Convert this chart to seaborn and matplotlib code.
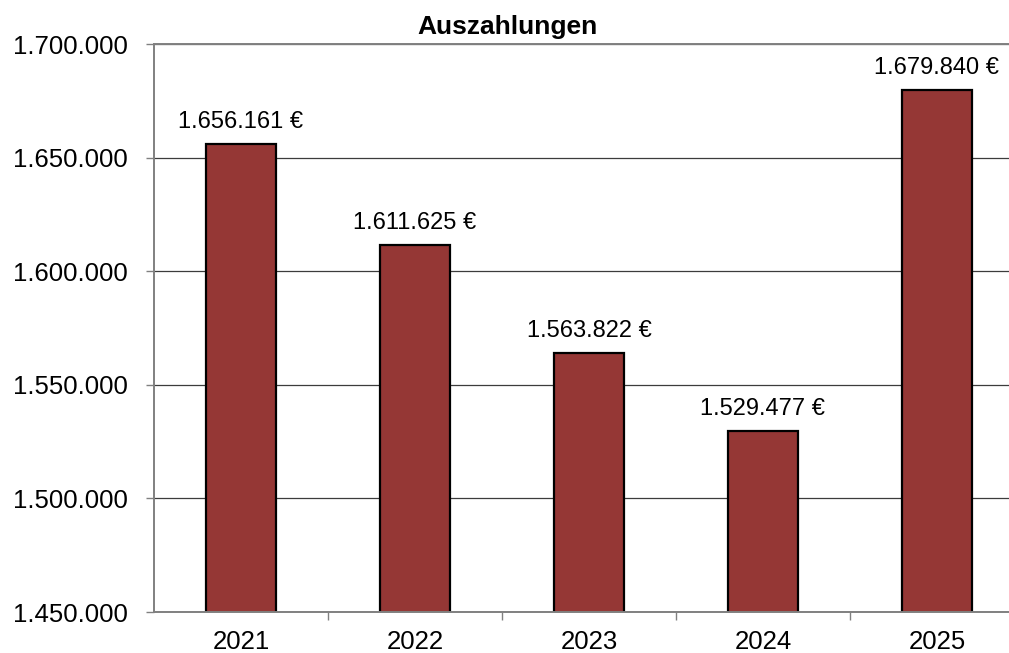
import matplotlib
matplotlib.use("Agg")
import matplotlib.pyplot as plt
import seaborn as sns
import pandas as pd
from matplotlib.ticker import FuncFormatter, FixedLocator

# Auszahlungen je Haushaltsjahr
years = ["2021", "2022", "2023", "2024", "2025"]
payments = [1656161, 1611625, 1563822, 1529477, 1679840]
y_ticks = [1450000, 1500000, 1550000, 1600000, 1650000, 1700000]
title = "Auszahlungen"

sns.set_theme(style="white")
plt.rcParams["font.family"] = ["Liberation Sans", "DejaVu Sans"]

df = pd.DataFrame({"Jahr": years, "Betrag": payments})


def de_number(v):
    return f"{int(round(v)):,}".replace(",", ".")


fig = plt.figure(figsize=(10.09, 6.53), dpi=100)
ax = fig.add_axes([154 / 1009, 41 / 653, 870 / 1009, 568 / 653])

sns.barplot(data=df, x="Jahr", y="Betrag", color="#953735", saturation=1,
            edgecolor="black", linewidth=1.6, width=0.4, ax=ax, zorder=2)

ax.set_ylim(y_ticks[0], y_ticks[-1])
ax.set_xlim(-0.5, len(years) - 0.5)
ax.yaxis.set_major_locator(FixedLocator(y_ticks))
ax.yaxis.set_major_formatter(FuncFormatter(lambda v, p: de_number(v)))

ax.set_axisbelow(True)
ax.yaxis.grid(True, color="#3c3c3c", linewidth=0.9)
ax.xaxis.grid(False)

for side in ("left", "bottom", "top"):
    ax.spines[side].set_visible(True)
    ax.spines[side].set_color("#808080")
    ax.spines[side].set_linewidth(1.4)
ax.spines["right"].set_visible(False)

ax.tick_params(axis="y", which="major", direction="out", length=6, width=1,
               color="#808080", labelsize=18.5, pad=13, labelcolor="black", left=True)
ax.xaxis.set_minor_locator(FixedLocator([i + 0.5 for i in range(len(years) - 1)]))
ax.tick_params(axis="x", which="minor", direction="out", length=6, width=1,
               color="#808080", bottom=True)
ax.tick_params(axis="x", which="major", length=0, labelsize=18.5, pad=13,
               labelcolor="black")

ax.set_xlabel("")
ax.set_ylabel("")

for i, v in enumerate(payments):
    ax.annotate(f"{de_number(v)} €", xy=(i, v), xytext=(0, 11.5),
                textcoords="offset points", ha="center", va="baseline",
                fontsize=17, color="black", zorder=4,
                bbox=dict(boxstyle="square,pad=0.3", facecolor="white",
                          edgecolor="none"))

fig.text(0.503, 1 - 34 / 653, title, ha="center", va="baseline",
         fontsize=19, fontweight="bold", color="black")

fig.savefig("out.png", dpi=100)
